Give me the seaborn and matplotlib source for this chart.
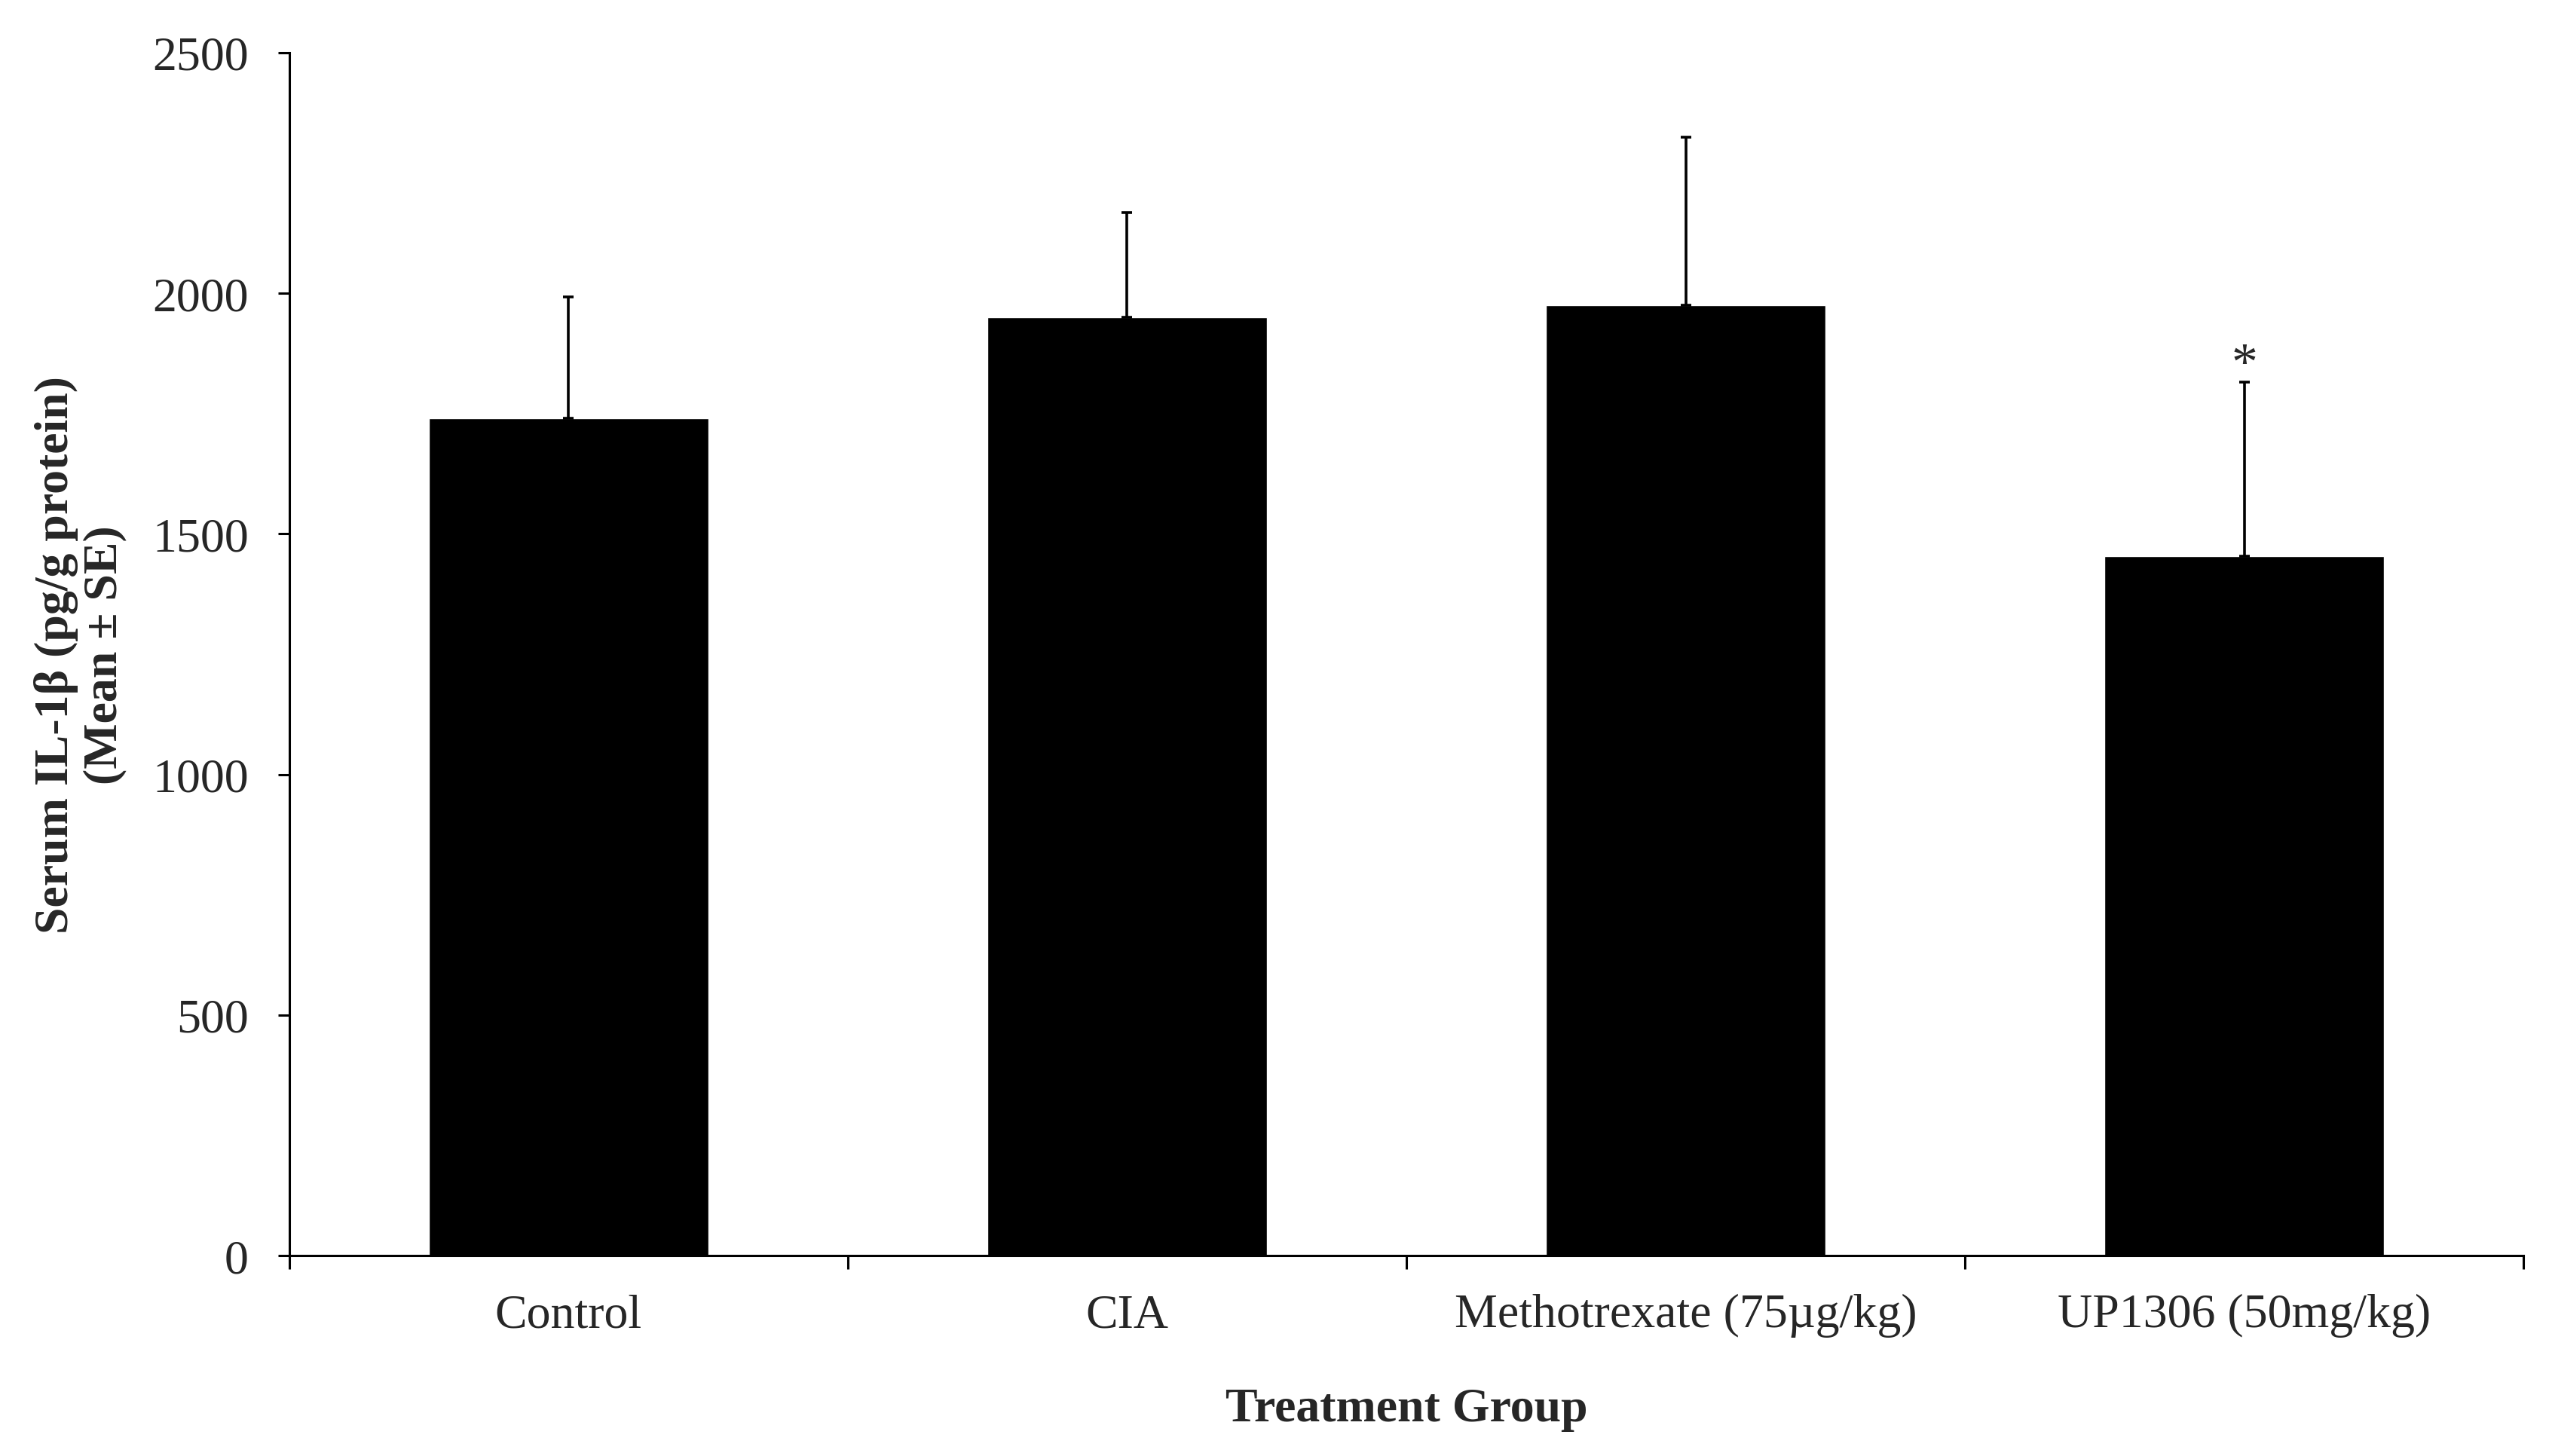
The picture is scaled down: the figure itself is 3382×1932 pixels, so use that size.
import numpy as np
import pandas as pd
import matplotlib
matplotlib.use('Agg')
import matplotlib.pyplot as plt
import seaborn as sns

groups = ['Control', 'CIA', 'Methotrexate (75µg/kg)', 'UP1306 (50mg/kg)']
means = [1740, 1950, 1975, 1453]
se = [252, 218, 350, 362]
marks = ['', '', '', '*']

df = pd.DataFrame({'Group': groups, 'IL1b': means, 'SE': se})

sns.set_style('white')
plt.rcParams['font.family'] = ['Liberation Serif', 'DejaVu Serif']

fig = plt.figure(figsize=(33.82, 19.33), dpi=100)
ax = fig.add_axes([0.1135, 0.1376, 0.8765, 0.8257])

sns.barplot(data=df, x='Group', y='IL1b', color='black', width=0.5,
            errorbar=None, saturation=1, ax=ax)

# upper error bars only
xs = np.arange(len(groups))
ax.errorbar(xs, df['IL1b'], yerr=[np.zeros(len(se)), df['SE']], fmt='none',
            ecolor='black', elinewidth=2.6, capsize=5, capthick=2.6)

for x, m, s, t in zip(xs, means, se, marks):
    if t:
        ax.text(x, m + s - 15, t, ha='center', va='bottom', fontsize=50)

ax.set_xlim(-0.5, 3.5)
ax.set_ylim(0, 2500)
ax.set_yticks([0, 500, 1000, 1500, 2000, 2500])

sns.despine(ax=ax)
for sp in ['left', 'bottom']:
    ax.spines[sp].set_linewidth(2.2)
    ax.spines[sp].set_color('black')

ax.set_xticks(xs)
ax.set_xticklabels(groups)
ax.set_xticks(np.arange(-0.5, 4, 1), minor=True)
ax.tick_params(axis='x', which='major', bottom=True, length=0, pad=36, labelsize=46)
ax.tick_params(axis='x', which='minor', bottom=True, length=13, width=2.2,
               direction='out', color='black')
ax.tick_params(axis='y', left=True, length=11, width=2.2, direction='out', pad=28,
               labelsize=46, color='black')

ax.set_xlabel('Treatment Group', fontsize=46, fontweight='bold', labelpad=48)
ax.set_ylabel('Serum IL-1β (pg/g protein)\n(Mean ± SE)', fontsize=46,
              fontweight='bold', labelpad=24, linespacing=1.15)

fig.savefig('out.png', dpi=100, facecolor='white')
